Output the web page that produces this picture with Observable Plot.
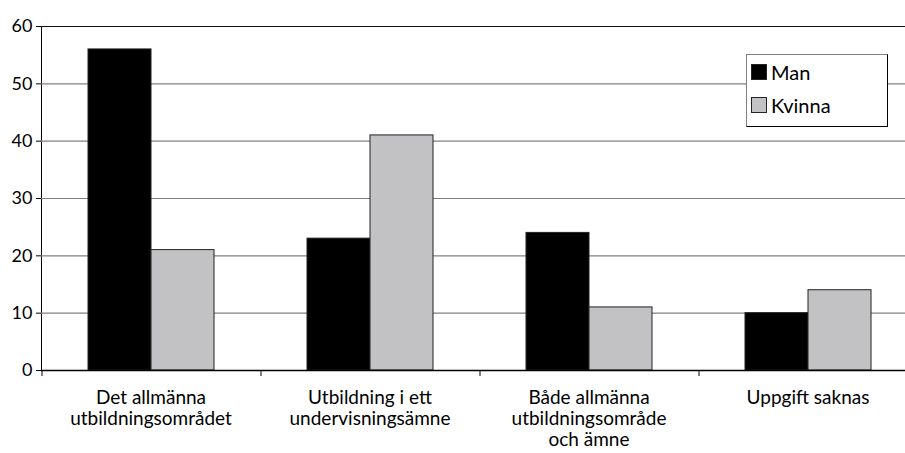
<!DOCTYPE html>
<html>
<head>
<meta charset="utf-8">
<script src="https://cdn.jsdelivr.net/npm/d3@7"></script>
<script src="https://cdn.jsdelivr.net/npm/@observablehq/plot@0.6"></script>
<style>
  html, body { margin: 0; padding: 0; background: #fff; }
  body { width: 905px; height: 453px; overflow: hidden; }
  #wrap { position: relative; width: 905px; height: 453px; overflow: hidden; }
  .legend { position: absolute; left: 746px; top: 54px; width: 140px; height: 71px;
    border-top: 1px solid #808080; border-left: 1px solid #808080;
    border-right: 1px solid #000; border-bottom: 1px solid #000; background: #fff;
    font-family: Lato, "DejaVu Sans", sans-serif; font-size: 20px; color: #000; }
  .legend .item { position: absolute; left: 4px; display: flex; align-items: center; }
  .legend .sw { width: 16px; height: 16px; border: 1px solid #222; box-sizing: border-box; margin-right: 4px; }
</style>
</head>
<body>
<div id="wrap"></div>
<script>
const categories = ["Det allmänna\nutbildningsområdet", "Utbildning i ett\nundervisningsämne", "Både allmänna\nutbildningsområde\noch ämne", "Uppgift saknas"];
const series = ["Man", "Kvinna"];
const manValues = [56, 23, 24, 10];
const kvinnaValues = [21, 41, 11, 14];
const yTicks = [0, 10, 20, 30, 40, 50, 60];
const colors = ["#000000", "#c2c2c4"];

const data = categories.flatMap((c, i) => [
  {cat: c, sex: "Man", value: manValues[i]},
  {cat: c, sex: "Kvinna", value: kvinnaValues[i]}
]);

// layout
const left = 41, right = 917;
const facetW = (right - left) / categories.length;
const barW = 63;
const padOuter = (facetW / 2 - barW) / barW;
const manCenter = facetW / 2 - barW / 2;

const chart = Plot.plot({
  width: 905, height: 453,
  marginTop: 26, marginBottom: 83, marginLeft: left, marginRight: 0,
  style: {fontFamily: "Lato, 'DejaVu Sans', sans-serif", fontSize: "18px", color: "#000", background: "#fff", overflow: "hidden"},
  fx: {domain: categories, range: [left, right], padding: 0, axis: null},
  x: {domain: series, paddingInner: 0, paddingOuter: padOuter, axis: null},
  y: {domain: [0, 60], ticks: yTicks, tickSize: 5, tickPadding: 4, line: true, label: null},
  color: {domain: series, range: colors},
  marks: [
    Plot.ruleY(yTicks.filter(t => t > 0 && t < 60), {stroke: "#808080", strokeWidth: 1.2}),
    Plot.ruleY([60], {stroke: "#111", strokeWidth: 1.2}),
    Plot.barY(data, {fx: "cat", x: "sex", y: "value", fill: "sex", stroke: "#222", strokeWidth: 1}),
    Plot.ruleY([0], {stroke: "#000", strokeWidth: 1.6}),
    Plot.ruleX(categories.map(c => ({cat: c, s: "Man"})), {fx: "cat", x: "s", y1: 0, y2: 0, insetBottom: -6, dx: -manCenter, stroke: "#000", strokeWidth: 1}),
    Plot.text(categories, {fx: d => d, text: d => d, frameAnchor: "bottom", lineAnchor: "top", dy: 18, fontSize: 19, lineHeight: 1.12, fill: "#000"})
  ]
});

const wrap = document.getElementById("wrap");
wrap.appendChild(chart);

const legend = document.createElement("div");
legend.className = "legend";
series.forEach((s, i) => {
  const item = document.createElement("div");
  item.className = "item";
  item.style.top = (i === 0 ? 5 : 38) + "px";
  const sw = document.createElement("div");
  sw.className = "sw";
  sw.style.background = colors[i];
  const t = document.createElement("span");
  t.textContent = s;
  item.appendChild(sw);
  item.appendChild(t);
  legend.appendChild(item);
});
wrap.appendChild(legend);
</script>
</body>
</html>
